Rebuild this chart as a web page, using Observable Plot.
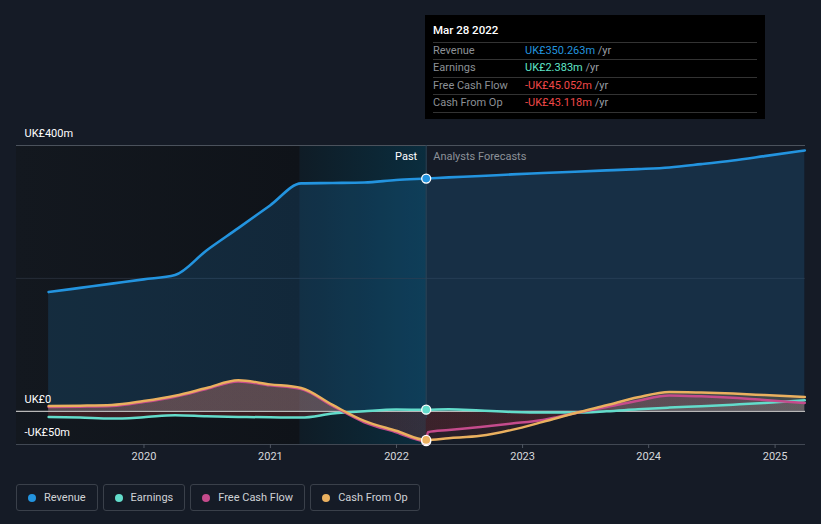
<!DOCTYPE html>
<html><head><meta charset="utf-8">
<script src="https://cdn.jsdelivr.net/npm/d3@7"></script>
<script src="https://cdn.jsdelivr.net/npm/@observablehq/plot@0.6"></script>
<style>
html,body{margin:0;padding:0;background:#151b26;}
body{font-family:Roboto,"Noto Sans",sans-serif;}
#wrap{position:relative;width:821px;height:524px;overflow:hidden;}
#chart svg{display:block;}
#tt{position:absolute;left:425px;top:15px;width:340px;height:104px;background:#000;box-sizing:border-box;padding:0 8px;}
#tt .title{height:21.7px;line-height:21.7px;padding-top:5px;color:#fff;font-size:11.5px;font-weight:500;}
#tt .row{height:16.5px;line-height:15px;border-top:1px solid #333;font-size:11px;display:flex;}
#tt .row:last-child{border-bottom:1px solid #333;}
#tt .lab{width:92px;color:#8c9096;}
#tt .unit{color:#9a9ea4;}
#legend{position:absolute;left:16px;top:484px;display:flex;gap:5px;}
#legend .item{height:27px;box-sizing:border-box;border:1px solid #3a404a;border-radius:3px;display:flex;align-items:center;padding:0 11px 0 11px;font-size:11px;color:#d0d2d6;}
#legend .dot{width:8px;height:8px;border-radius:50%;margin-right:8px;}
</style></head>
<body><div id="wrap"><div id="chart"></div><div id="tt"></div><div id="legend"></div></div>
<script>
// ---- data (UK£ m) ----
const seriesNames = ["Revenue", "Earnings", "Free Cash Flow", "Cash From Op"];
const seriesColors = ["#2394df", "#63dccb", "#c54b8c", "#eab05f"];
const pastDates = ["2019-03-31","2019-06-30","2019-09-30","2019-12-31","2020-03-31","2020-06-30","2020-09-30","2020-12-31","2021-03-31","2021-06-30","2021-09-30","2021-12-31","2022-03-28"];
const revenuePast  = [179.4,185.7,192.1,198.5,205,242,275.6,309.8,343,343.6,344.4,348,350.263];
const earningsPast = [-8.5,-9.5,-11,-9,-6,-7.5,-8.5,-9,-9.5,-3.5,0,2.5,2.383];
const fcfPast      = [6.5,7,8,14,22,33.5,45,39,33.5,8,-16.5,-31.5,-45.052];
const cfoPast      = [8,8.5,9.5,15.5,23.5,35,46.6,40.5,35,9.5,-14.5,-29.3,-43.118];
const forecastDates = ["2022-03-28","2022-06-01","2022-09-01","2022-12-01","2023-03-01","2023-06-01","2023-09-01","2023-12-01","2024-03-01","2024-06-01","2024-09-01","2024-12-01","2025-03-28"];
const revenueForecast  = [350.263,352,354,356.5,358.5,360.5,362.5,364.5,367,372,377.5,384,392.5];
const earningsForecast = [2.383,3,1,-1,-2,-2,0,3,5.5,7.7,10,12.5,16.5];
const cfoForecast      = [-43.118,-40.5,-37,-28,-16,-3,9,21,29,28.1,26.6,24.4,21.5];
const fcfForecastDates = ["2022-03-28","2022-04-02","2022-06-01","2022-09-01","2022-12-01","2023-03-01","2023-06-01","2023-09-01","2023-12-01","2024-03-01","2024-06-01","2024-09-01","2024-12-01","2025-03-28"];
const fcfForecast      = [-45.052,-31.5,-28.3,-23.6,-18.5,-13,-3,6.5,16,23.8,22.5,20.3,17.1,12.5];
const xDomainDates = ["2018-12-28","2025-03-30"];
const bandStartDate = "2021-03-28";
const tipDateStr = "2022-03-28";
const xTickDates = ["2020-01-01","2021-01-01","2022-01-01","2023-01-01","2024-01-01","2025-01-01"];
const yLabelValues = [400, 0, -50];
const yLabelTexts = ["UK£400m", "UK£0", "-UK£50m"];
const tipTitle = "Mar 28 2022";
const tipValues = ["UK£350.263m", "UK£2.383m", "-UK£45.052m", "-UK£43.118m"];
const tipValueColors = ["#2394df", "#5fe6c8", "#f04848", "#f04848"];

// ---- build ----
const parse = d3.utcParse("%Y-%m-%d");
const mk = (dates, vals) => dates.map((d, i) => ({date: parse(d), value: vals[i]}));
const revenue  = mk(pastDates.concat(forecastDates.slice(1)), revenuePast.concat(revenueForecast.slice(1)));
const earnings = mk(pastDates.concat(forecastDates.slice(1)), earningsPast.concat(earningsForecast.slice(1)));
const cfo      = mk(pastDates.concat(forecastDates.slice(1)), cfoPast.concat(cfoForecast.slice(1)));
const fcf      = mk(pastDates.concat(fcfForecastDates.slice(1)), fcfPast.concat(fcfForecast.slice(1)));
const xDomain = xDomainDates.map(parse);
const bandStart = parse(bandStartDate);
const tipDate = parse(tipDateStr);
const curve = "monotone-x";
const tipPoints = [
  {date: tipDate, value: revenuePast[revenuePast.length-1], c: seriesColors[0]},
  {date: tipDate, value: earningsPast[earningsPast.length-1], c: seriesColors[1]},
  {date: tipDate, value: fcfPast[fcfPast.length-1], c: seriesColors[2]},
  {date: tipDate, value: cfoPast[cfoPast.length-1], c: seriesColors[3]}
];
const yLabels = yLabelValues.map((v, i) => ({v, t: yLabelTexts[i]}));

const plot = Plot.plot({
  width: 821, height: 470,
  marginLeft: 16, marginRight: 16, marginTop: 145, marginBottom: 26,
  style: {background: "transparent", fontFamily: "Roboto, 'Noto Sans', sans-serif", fontSize: "11px", overflow: "visible"},
  x: {type: "utc", domain: xDomain},
  y: {domain: [-50, 400], axis: null},
  marks: [
    Plot.rect([{a: xDomain[0], b: bandStart}], {x1: "a", x2: "b", y1: -50, y2: 400, fill: "url(#pastShade)"}),
    Plot.rect([{a: bandStart, b: tipDate}], {x1: "a", x2: "b", y1: -50, y2: 400, fill: "url(#bandGrad)"}),
    Plot.ruleY([200], {stroke: "#262d38"}),
    Plot.ruleY([400], {stroke: "#4b525c"}),
    Plot.areaY(revenue, {x: "date", y: "value", curve, fill: seriesColors[0], fillOpacity: 0.17}),
    Plot.areaY(earnings, {x: "date", y1: 0, y2: "value", curve, fill: "url(#gE)"}),
    Plot.areaY(fcf, {x: "date", y1: 0, y2: "value", curve, fill: "url(#gF)"}),
    Plot.areaY(cfo, {x: "date", y1: 0, y2: "value", curve, fill: "url(#gC)"}),
    Plot.ruleY([0], {stroke: "#b8b8b8", strokeWidth: 1.3}),
    Plot.ruleY([-50], {stroke: "#414853"}),
    Plot.ruleX([tipDate], {y1: -50, y2: 400, insetTop: -26, stroke: "#2b4457"}),
    Plot.lineY(earnings, {x: "date", y: "value", curve, stroke: seriesColors[1], strokeWidth: 2.5}),
    Plot.lineY(fcf, {x: "date", y: "value", curve, stroke: seriesColors[2], strokeWidth: 2.5}),
    Plot.lineY(cfo, {x: "date", y: "value", curve, stroke: seriesColors[3], strokeWidth: 2.5}),
    Plot.lineY(revenue, {x: "date", y: "value", curve, stroke: seriesColors[0], strokeWidth: 2.6}),
    Plot.dot(tipPoints, {x: "date", y: "value", r: 4.5, fill: "c", stroke: "#fff", strokeWidth: 1.3}),
    Plot.text(yLabels, {x: () => xDomain[0], y: "v", text: "t", textAnchor: "start", dx: 8, dy: -12, fill: "#ffffff"}),
    Plot.text([{d: tipDate, t: "Past"}], {x: "d", y: () => 400, text: "t", textAnchor: "end", dx: -9, dy: 11, fill: "#ffffff"}),
    Plot.text([{d: tipDate, t: "Analysts Forecasts"}], {x: "d", y: () => 400, text: "t", textAnchor: "start", dx: 7, dy: 11, fill: "#8c9198"}),
    Plot.axisX({ticks: xTickDates.map(parse), tickFormat: d3.utcFormat("%Y"), tickSize: 4, tickPadding: 4, stroke: "#4f5661", fill: "#d6d8dc", label: null})
  ]
});

// gradients
const ns = "http://www.w3.org/2000/svg";
const defs = document.createElementNS(ns, "defs");
function grad(id, attrs, stops) {
  const g = document.createElementNS(ns, "linearGradient");
  g.setAttribute("id", id);
  for (const k in attrs) g.setAttribute(k, attrs[k]);
  for (const [o, c, a] of stops) {
    const s = document.createElementNS(ns, "stop");
    s.setAttribute("offset", o); s.setAttribute("stop-color", c); s.setAttribute("stop-opacity", a);
    g.appendChild(s);
  }
  defs.appendChild(g);
}
const ys = plot.scale("y");
const yTop = ys.apply(400), yBot = ys.apply(-50), z = (ys.apply(0) - yTop) / (yBot - yTop);
const vert = {gradientUnits: "userSpaceOnUse", x1: 0, x2: 0, y1: yTop, y2: yBot};
const red = "#e0403f";
grad("gE", vert, [[0, seriesColors[1], 0.14], [z, seriesColors[1], 0.14], [z, red, 0.2], [1, red, 0.2]]);
grad("gF", vert, [[0, seriesColors[2], 0.2], [z, seriesColors[2], 0.2], [z, red, 0.1], [1, red, 0.1]]);
grad("gC", vert, [[0, seriesColors[3], 0.2], [z, seriesColors[3], 0.2], [z, red, 0.1], [1, red, 0.1]]);
grad("bandGrad", {x1: 0, x2: 1, y1: 0, y2: 0}, [[0, "#0f1c26", 1], [1, "#0a2d3e", 1]]);
grad("pastShade", {x1: 0, x2: 1, y1: 0, y2: 0}, [[0, "#13181f", 1], [1, "#0f1319", 1]]);
plot.insertBefore(defs, plot.firstChild);
document.getElementById("chart").appendChild(plot);

// tooltip
const tt = document.getElementById("tt");
const title = document.createElement("div"); title.className = "title"; title.textContent = tipTitle; tt.appendChild(title);
seriesNames.forEach((n, i) => {
  const r = document.createElement("div"); r.className = "row";
  const l = document.createElement("span"); l.className = "lab"; l.textContent = n;
  const v = document.createElement("span"); v.style.color = tipValueColors[i]; v.textContent = tipValues[i];
  const u = document.createElement("span"); u.className = "unit"; u.textContent = "\u00a0/yr";
  r.append(l, v, u); tt.appendChild(r);
});

// legend
const lg = document.getElementById("legend");
seriesNames.forEach((n, i) => {
  const it = document.createElement("div"); it.className = "item";
  const d = document.createElement("span"); d.className = "dot"; d.style.background = seriesColors[i];
  const t = document.createElement("span"); t.textContent = n;
  it.append(d, t); lg.appendChild(it);
});
</script></body></html>
